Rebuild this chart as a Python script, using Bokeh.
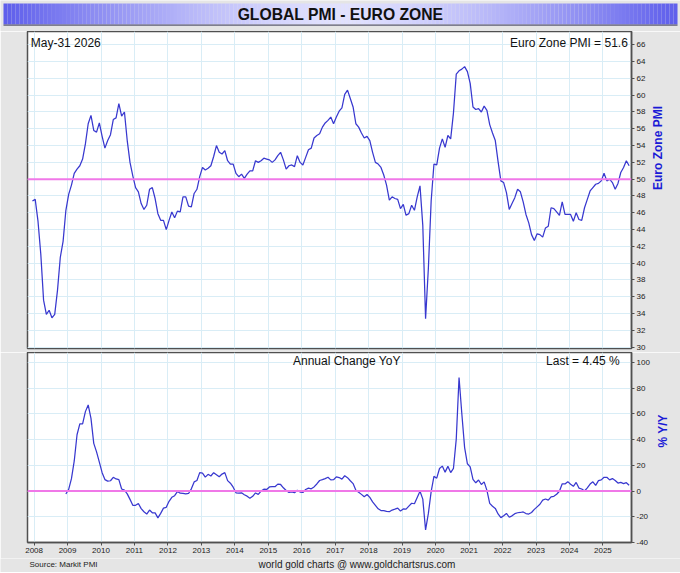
import math
from bokeh.plotting import figure
from bokeh.models import Range1d, FixedTicker, Span, Label
from bokeh.layouts import column
from bokeh.core.properties import value
from bokeh.embed import file_html
from bokeh.resources import INLINE

# ---------------- data ----------------
chart_title = "GLOBAL PMI - EURO ZONE"
date_text = "May-31  2026"
pmi_label = "Euro Zone PMI"
yoy_label = "% Y/Y"
yoy_title = "Annual Change YoY"
last_yoy_text = "Last = 4.45 %"
source_text = "Source: Markit PMI"
credit_text = "world gold charts @ www.goldchartsrus.com"

# chart position (in years on the x axis) of the first monthly reading
first_month_pos = 2007.95

# monthly Euro Zone PMI readings, oldest first
pmi = [
    47.4, 47.6, 45.0, 41.1, 35.6, 33.9,
    34.4, 33.5, 33.9, 36.8, 40.7, 42.6, 46.3, 48.2, 49.3, 50.7, 51.2, 51.6,
    52.4, 54.2, 56.6, 57.6, 55.8, 55.6, 56.7, 55.1, 53.7, 54.6, 55.3, 57.1,
    57.3, 59.0, 57.5, 58.0, 54.6, 52.0, 50.4, 49.0, 48.5, 47.1, 46.4, 46.9,
    48.8, 49.0, 47.7, 45.9, 45.1, 45.1, 44.0, 45.1, 46.1, 45.4, 46.2, 46.1,
    47.9, 47.9, 46.8, 46.7, 48.3, 48.8, 50.3, 51.4, 51.1, 51.3, 51.6, 52.7,
    54.0, 53.2, 53.0, 53.4, 52.2, 51.8, 51.8, 50.7, 50.3, 50.6, 50.1, 50.6,
    51.0, 51.0, 52.2, 52.0, 52.2, 52.5, 52.4, 52.3, 52.0, 52.3, 52.8, 53.2,
    52.3, 51.2, 51.6, 51.7, 51.5, 52.8, 52.0, 51.7, 52.6, 53.5, 53.7, 54.9,
    55.2, 55.4, 56.2, 56.7, 57.0, 57.4, 56.6, 57.4, 58.1, 58.5, 60.1, 60.6,
    59.6, 58.6, 56.6, 56.2, 55.5, 54.9, 55.1, 54.6, 53.2, 52.0, 51.8, 51.4,
    50.5, 49.3, 47.5, 47.9, 47.7, 47.6, 46.5, 47.0, 45.7, 45.9, 46.9, 46.3,
    47.9, 49.2, 44.5, 33.4, 39.4, 47.4, 51.8, 51.7, 53.7, 54.8, 53.8, 55.2,
    54.8, 57.9, 62.5, 62.9, 63.1, 63.4, 62.8, 61.4, 58.6, 58.3, 58.4, 58.0,
    58.7, 58.2, 56.5, 55.5, 54.6, 52.1, 49.8, 49.6, 48.4, 46.4, 47.1, 47.8,
    48.8, 48.5, 47.3, 45.8, 44.8, 43.4, 42.7, 43.5, 43.4, 43.1, 44.2, 44.4,
    46.6, 46.5, 46.1, 45.7, 47.3, 45.8, 45.8, 45.8, 45.0, 46.0, 45.2, 45.1,
    46.6, 47.6, 48.6, 49.0, 49.4, 49.5, 49.8, 50.7, 49.8, 50.0, 49.6, 48.8,
    49.5, 50.8, 51.4, 52.2, 51.6,
]

# annual change (%), starting 12 months after the first PMI reading
yoy = [
    -2.3, 1.3, 9.6, 23.4, 43.8, 52.2,
    52.3, 61.8, 67.0, 56.5, 37.1, 30.5, 22.5, 14.3, 8.9, 7.7, 8.0, 10.7,
    9.4, 8.9, 1.6, 0.7, -2.2, -6.5, -11.1, -11.1, -9.7, -13.7, -16.1, -17.9,
    -14.8, -16.9, -17.0, -20.9, -17.4, -13.3, -12.7, -8.0, -4.9, -3.6, -0.4, -1.7,
    -1.8, -2.2, -1.9, 1.7, 7.1, 8.2, 14.3, 14.0, 10.8, 13.0, 11.7, 14.3,
    12.7, 11.1, 13.2, 14.3, 8.1, 6.1, 3.0, -1.4, -1.6, -1.4, -2.9, -4.0,
    -5.6, -4.1, -1.5, -2.6, 0.0, 1.4, 1.2, 3.2, 3.4, 3.4, 5.4, 5.1,
    2.5, 0.4, -1.1, -0.6, -1.3, 0.6, -0.8, -1.1, 1.2, 2.3, 1.7, 3.2,
    5.5, 8.2, 8.9, 9.7, 10.7, 8.7, 8.8, 11.0, 10.5, 9.3, 11.9, 10.4,
    8.0, 5.8, 0.7, -0.9, -2.6, -4.4, -2.7, -4.9, -8.4, -11.1, -13.8, -15.2,
    -15.3, -15.9, -16.1, -14.8, -14.1, -13.3, -15.6, -13.9, -14.1, -11.7, -9.5, -9.9,
    -5.1, -0.2, -6.3, -30.3, -17.4, -0.4, 11.4, 10.0, 17.5, 19.4, 14.7, 19.2,
    14.4, 17.7, 40.4, 88.3, 60.2, 33.8, 21.2, 18.8, 9.1, 6.4, 8.6, 5.1,
    7.1, 0.5, -9.6, -11.8, -13.5, -17.8, -20.7, -19.2, -17.4, -20.4, -19.3, -17.6,
    -16.9, -16.7, -16.3, -17.5, -17.9, -16.7, -14.3, -12.3, -10.3, -7.1, -6.2, -7.1,
    -4.5, -4.1, -2.5, -0.2, 5.6, 5.5, 7.3, 5.3, 3.7, 6.7, 2.3, 1.6,
    0.0, 2.4, 5.4, 7.2, 4.4, 8.1, 8.7, 10.7, 10.7, 8.7, 9.7, 8.2,
    6.2, 6.7, 5.8, 6.5, 4.5,
]

year_ticks = list(range(2008, 2026))
pmi_ticks = list(range(30, 67, 2))
yoy_ticks = list(range(-40, 101, 20))
pmi_ref_level = 50
yoy_ref_level = 0

months_x = [first_month_pos + i / 12 for i in range(len(pmi))]
yoy_x = months_x[len(pmi) - len(yoy):]

# ---------------- style ----------------
FONT = "Liberation Sans"
GRAY = "#e5e5e5"
FRAME = "#505050"
GRID = "#d9edf6"
LINE = "#3838cf"
PINK = "#f078e8"
AXIS_TITLE = "#1a1ad6"
W = 680
FRAME_W = 604
BORDER_L = 27
BORDER_R = W - FRAME_W - BORDER_L

x_rng = Range1d(2007.803, 2025.854)


def style_axis(ax):
    ax.axis_line_color = FRAME
    ax.axis_line_width = 1.5
    ax.major_tick_line_color = FRAME
    ax.major_tick_out = 3
    ax.major_tick_in = 0
    ax.minor_tick_line_color = None
    ax.major_label_text_font = FONT
    ax.major_label_text_font_size = "8px"
    ax.major_label_text_color = "#222222"
    ax.major_label_standoff = 2


def style_axis_title(ax, text, standoff):
    ax.axis_label = text
    ax.axis_label_text_font = FONT
    ax.axis_label_text_font_size = "12px"
    ax.axis_label_text_font_style = "bold"
    ax.axis_label_text_color = AXIS_TITLE
    ax.axis_label_standoff = standoff
    try:
        ax.axis_label_orientation = math.pi / 2
    except Exception:
        pass


def style_fig(p):
    p.background_fill_color = "white"
    p.border_fill_color = GRAY
    p.outline_line_color = FRAME
    p.outline_line_width = 1.5


def plain_fig(h):
    f = figure(frame_width=W, frame_height=h, x_range=Range1d(0, W), y_range=Range1d(h, 0),
               x_axis_location=None, y_axis_location=None, toolbar_location=None,
               output_backend="svg", min_border=0, min_border_left=0, min_border_right=0,
               min_border_top=0, min_border_bottom=0)
    try:
        f.frame_align = False
    except Exception:
        pass
    f.grid.visible = False
    f.outline_line_color = None
    f.background_fill_color = GRAY
    f.border_fill_color = GRAY
    return f


# ---------------- title bar ----------------
TH = 31
tf = plain_fig(TH)
n = 170
bar_l, bar_r, bar_t, bar_b = 3, 677, 3, 24
step = (bar_r - bar_l) / n
lefts = [bar_l + step * k for k in range(n)]
rights = [bar_l + step * (k + 1) for k in range(n)]
cols = []
for k in range(n):
    t = abs((k + 0.5) / n - 0.5) * 2
    t = t ** 1.4
    r = int(226 + (94 - 226) * t)
    g = int(226 + (94 - 226) * t)
    b = int(255 + (236 - 255) * t)
    cols.append("#%02x%02x%02x" % (r, g, b))
tf.quad(left=lefts, right=rights, top=bar_t, bottom=bar_b, fill_color=cols, line_color=None)
tf.quad(left=[bar_l], right=[bar_r], top=bar_b, bottom=bar_b + 1.2, fill_color="#5c5c70",
        line_color=None)
tf.text(x=[W / 2], y=[13.8], text=[chart_title], text_font=value(FONT),
        text_font_style="bold", text_font_size="15.7px", text_align="center",
        text_baseline="middle", text_color="#111111")

# ---------------- PMI panel ----------------
top = figure(frame_width=FRAME_W, frame_height=317, x_range=x_rng,
             y_range=Range1d(29.845, 67.583),
             x_axis_location=None, y_axis_location="right", toolbar_location=None,
             output_backend="svg", min_border_left=BORDER_L, min_border_right=BORDER_R,
             min_border_top=0, min_border_bottom=4)
style_fig(top)
top.yaxis.ticker = FixedTicker(ticks=pmi_ticks)
top.yaxis.major_label_overrides = {t: str(t) for t in pmi_ticks}
style_axis(top.yaxis[0])
style_axis_title(top.yaxis[0], pmi_label, 10)
top.ygrid.ticker = FixedTicker(ticks=pmi_ticks)
top.xgrid.ticker = FixedTicker(ticks=year_ticks)
top.grid.grid_line_color = GRID
top.grid.grid_line_width = 1
top.add_layout(Span(location=pmi_ref_level, dimension="width", line_color=PINK, line_width=2))
top.line(months_x, pmi, line_color=LINE, line_width=1.25)
top.add_layout(Label(x=2007.90, y=66.155, text=date_text, text_font=FONT,
                     text_font_size="12px", text_color="#111111",
                     text_align="left", text_baseline="alphabetic"))
top.add_layout(Label(x=2025.744, y=66.155, text="Euro Zone PMI = %.1f" % pmi[-1],
                     text_font=FONT, text_font_size="12px", text_color="#111111",
                     text_align="right", text_baseline="alphabetic"))

# ---------------- YoY panel ----------------
bot = figure(frame_width=FRAME_W, frame_height=190, x_range=x_rng,
             y_range=Range1d(-40.05, 107.81),
             x_axis_location="below", y_axis_location="right", toolbar_location=None,
             output_backend="svg", min_border_left=BORDER_L, min_border_right=BORDER_R,
             min_border_top=0, min_border_bottom=16)
style_fig(bot)
bot.yaxis.ticker = FixedTicker(ticks=yoy_ticks)
bot.yaxis.major_label_overrides = {t: str(t) for t in yoy_ticks}
bot.xaxis.ticker = FixedTicker(ticks=year_ticks)
bot.xaxis.major_label_overrides = {t: str(t) for t in year_ticks}
style_axis(bot.yaxis[0])
style_axis(bot.xaxis[0])
style_axis_title(bot.yaxis[0], yoy_label, 10)
bot.ygrid.ticker = FixedTicker(ticks=yoy_ticks)
bot.xgrid.ticker = FixedTicker(ticks=year_ticks)
bot.grid.grid_line_color = GRID
bot.grid.grid_line_width = 1
bot.add_layout(Span(location=yoy_ref_level, dimension="width", line_color=PINK, line_width=2))
bot.line(yoy_x, yoy, line_color=LINE, line_width=1.25)
bot.add_layout(Label(x=2017.345, y=101.2, text=yoy_title, text_font=FONT,
                     text_font_size="12px", text_color="#111111",
                     text_align="center", text_baseline="alphabetic"))
bot.add_layout(Label(x=2025.504, y=101.2, text=last_yoy_text, text_font=FONT,
                     text_font_size="12px", text_color="#111111",
                     text_align="right", text_baseline="alphabetic"))

# ---------------- footer ----------------
FH = 14
ft = plain_fig(FH)
ft.text(x=[29], y=[5.5], text=[source_text], text_font=value(FONT),
        text_font_size="8px", text_align="left", text_baseline="middle",
        text_color="#222222")
ft.text(x=[356.5], y=[5.5], text=[credit_text], text_font=value(FONT),
        text_font_size="10px", text_align="center", text_baseline="middle",
        text_color="#222222")

layout = column(tf, top, bot, ft, spacing=0)
open("out.html", "w").write(file_html(layout, INLINE))
